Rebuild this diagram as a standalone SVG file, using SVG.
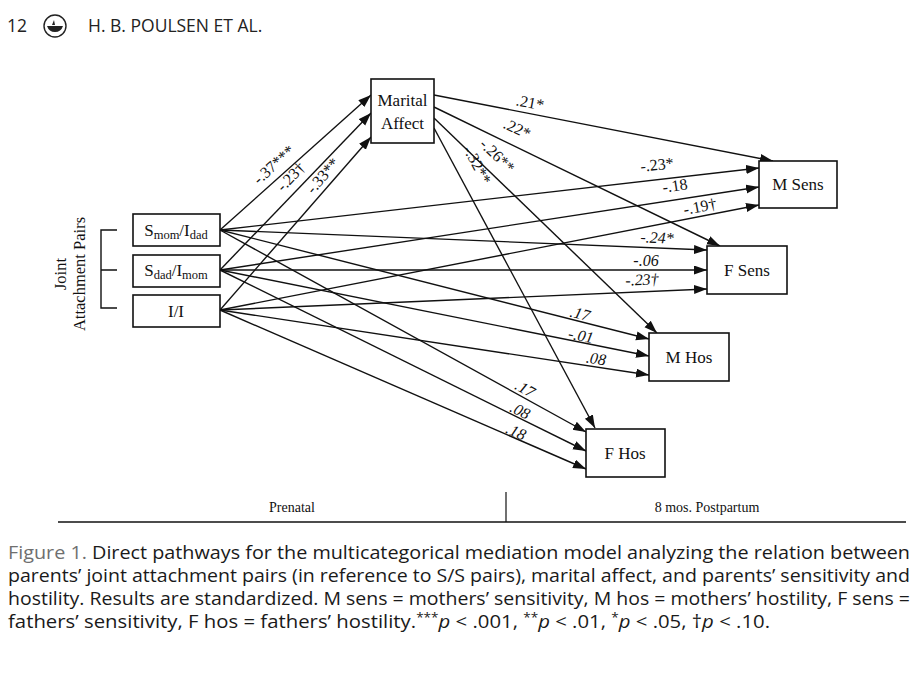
<svg xmlns="http://www.w3.org/2000/svg" width="916" height="677" viewBox="0 0 916 677">
<defs>
<marker id="ah" markerUnits="userSpaceOnUse" markerWidth="14" markerHeight="10" refX="13" refY="4.5" orient="auto">
<path d="M0,0 L13,4.5 L0,9 z" fill="#111"/>
</marker>
<style>
.box{fill:#fff;stroke:#111;stroke-width:1.6}
.nt{font-family:"Liberation Serif","DejaVu Serif",serif;font-size:17px;fill:#111;text-anchor:middle}
.sub{font-size:12.5px}
.ed{fill:none;stroke:#111;stroke-width:1.4;marker-end:url(#ah)}
.lb{font-family:"Liberation Serif","DejaVu Serif",serif;font-size:16px;fill:#111;text-anchor:middle}
.it{font-style:italic}
.ax{font-family:"Liberation Serif","DejaVu Serif",serif;font-size:14px;fill:#111;text-anchor:middle}
.cap{font-family:"Liberation Sans Narrow","Open Sans",sans-serif;font-size:18px;fill:#1a1a1a}
.hd{font-family:"Open Sans","Liberation Sans",sans-serif;font-size:17.5px;fill:#222}
</style>
</defs>
<rect width="916" height="677" fill="#fff"/>

<g id="header">
<text class="hd" x="7" y="32">12</text>
<circle cx="55" cy="26" r="11" fill="none" stroke="#222" stroke-width="1.4"/>
<path d="M47,26 L63,26 Q61,32 55,32 Q49,32 47,26 z M52,25 L54,20 L55,25 z" fill="#222"/>
<text class="hd" x="88" y="32">H. B. POULSEN ET AL.</text>
</g>

<g id="connectors">
<line class="ed" x1="220" y1="230" x2="371" y2="95"/>
<line class="ed" x1="220" y1="270" x2="371" y2="113"/>
<line class="ed" x1="220" y1="310" x2="371" y2="137"/>
<line class="ed" x1="434" y1="95" x2="773" y2="161"/>
<line class="ed" x1="434" y1="107" x2="720" y2="246"/>
<line class="ed" x1="434" y1="118" x2="657" y2="333"/>
<line class="ed" x1="434" y1="128" x2="595" y2="428"/>
<line class="ed" x1="220" y1="230" x2="759" y2="168"/>
<line class="ed" x1="220" y1="270" x2="759" y2="187"/>
<line class="ed" x1="220" y1="310" x2="759" y2="205"/>
<line class="ed" x1="220" y1="230" x2="707" y2="250"/>
<line class="ed" x1="220" y1="270" x2="707" y2="270"/>
<line class="ed" x1="220" y1="310" x2="707" y2="289"/>
<line class="ed" x1="220" y1="230" x2="649" y2="339"/>
<line class="ed" x1="220" y1="270" x2="649" y2="356"/>
<line class="ed" x1="220" y1="310" x2="649" y2="375"/>
<line class="ed" x1="220" y1="230" x2="586" y2="432"/>
<line class="ed" x1="220" y1="270" x2="586" y2="451"/>
<line class="ed" x1="220" y1="310" x2="586" y2="469"/>
</g>

<g id="edge-labels">
<text class="lb" transform="translate(274,165) rotate(-41.8)" y="5">-.37***</text>
<text class="lb" transform="translate(291,177) rotate(-46)" y="5">-.23†</text>
<text class="lb" transform="translate(323,176) rotate(-48.9)" y="5">-.33**</text>
<text class="lb" transform="translate(530,103) rotate(11)" y="5">.21*</text>
<text class="lb" transform="translate(517,129) rotate(25.9)" y="5">.22*</text>
<text class="lb" transform="translate(497,156) rotate(44)" y="5">-.26**</text>
<text class="lb" transform="translate(477,165) rotate(61.9)" y="5">-.32**</text>
<text class="lb" transform="translate(657,165) rotate(-6.3)" y="5">-.23*</text>
<text class="lb" transform="translate(675,186) rotate(-8.6)" y="5">-.18</text>
<text class="lb" transform="translate(700,207) rotate(-10.8)" y="5">-.19†</text>
<text class="lb it" transform="translate(657,238) rotate(2.3)" y="5">-.24*</text>
<text class="lb it" transform="translate(646,261)" y="5">-.06</text>
<text class="lb it" transform="translate(642,280) rotate(-2.3)" y="5">-.23†</text>
<text class="lb it" transform="translate(580,314) rotate(14.3)" y="5">.17</text>
<text class="lb it" transform="translate(581,336) rotate(11.3)" y="5">-.01</text>
<text class="lb it" transform="translate(596,359) rotate(8.2)" y="5">.08</text>
<text class="lb it" transform="translate(525,389) rotate(28.9)" y="5">.17</text>
<text class="lb it" transform="translate(520,411) rotate(26.3)" y="5">.08</text>
<text class="lb it" transform="translate(516,432) rotate(23.5)" y="5">.18</text>
</g>

<g id="group-label">
<path d="M117,230 H101 V308 H117 M101,270 H117" fill="none" stroke="#111" stroke-width="1.4"/>
<text class="nt" style="font-size:16.5px" transform="translate(66,274) rotate(-90)">Joint</text>
<text class="nt" style="font-size:16.5px" transform="translate(85,274) rotate(-90)">Attachment Pairs</text>
</g>

<g id="node-smom">
<rect class="box" x="133" y="214" width="87" height="32"/>
<text class="nt" x="176" y="236">S<tspan class="sub" dy="3">mom</tspan><tspan dy="-3">/I</tspan><tspan class="sub" dy="3">dad</tspan></text>
</g>
<g id="node-sdad">
<rect class="box" x="133" y="255" width="87" height="32"/>
<text class="nt" x="176" y="276">S<tspan class="sub" dy="3">dad</tspan><tspan dy="-3">/I</tspan><tspan class="sub" dy="3">mom</tspan></text>
</g>
<g id="node-ii">
<rect class="box" x="133" y="295" width="87" height="32"/>
<text class="nt" x="176" y="317">I/I</text>
</g>
<g id="node-marital">
<rect class="box" x="371" y="79" width="63" height="64"/>
<text class="nt" x="402.5" y="106">Marital</text>
<text class="nt" x="402.5" y="129">Affect</text>
</g>
<g id="node-msens">
<rect class="box" x="759" y="161" width="78" height="47"/>
<text class="nt" x="798" y="190">M Sens</text>
</g>
<g id="node-fsens">
<rect class="box" x="707" y="246" width="80" height="48"/>
<text class="nt" x="747" y="276">F Sens</text>
</g>
<g id="node-mhos">
<rect class="box" x="649" y="333" width="80" height="48"/>
<text class="nt" x="689" y="363">M Hos</text>
</g>
<g id="node-fhos">
<rect class="box" x="586" y="429" width="79" height="48"/>
<text class="nt" x="625" y="459">F Hos</text>
</g>

<g id="timeline">
<line x1="58" y1="522" x2="906" y2="522" stroke="#111" stroke-width="1.6"/>
<line x1="506" y1="492" x2="506" y2="522" stroke="#111" stroke-width="1.2"/>
<text class="ax" x="292" y="512">Prenatal</text>
<text class="ax" x="707" y="512">8 mos. Postpartum</text>
</g>

<g id="caption">
<text class="cap" x="8" y="559" textLength="902" lengthAdjust="spacingAndGlyphs"><tspan fill="#6f6f6f">Figure 1.</tspan> Direct pathways for the multicategorical mediation model analyzing the relation between</text>
<text class="cap" x="8" y="582" textLength="902" lengthAdjust="spacingAndGlyphs">parents’ joint attachment pairs (in reference to S/S pairs), marital affect, and parents’ sensitivity and</text>
<text class="cap" x="8" y="605" textLength="902" lengthAdjust="spacingAndGlyphs">hostility. Results are standardized. M sens = mothers’ sensitivity, M hos = mothers’ hostility, F sens =</text>
<text class="cap" x="8" y="628" textLength="762" lengthAdjust="spacingAndGlyphs">fathers’ sensitivity, F hos = fathers’ hostility.<tspan font-size="12" dy="-6">***</tspan><tspan font-style="italic" dy="6">p</tspan> &lt; .001, <tspan font-size="12" dy="-6">**</tspan><tspan font-style="italic" dy="6">p</tspan> &lt; .01, <tspan font-size="12" dy="-6">*</tspan><tspan font-style="italic" dy="6">p</tspan> &lt; .05, †<tspan font-style="italic">p</tspan> &lt; .10.</text>
</g>
</svg>
